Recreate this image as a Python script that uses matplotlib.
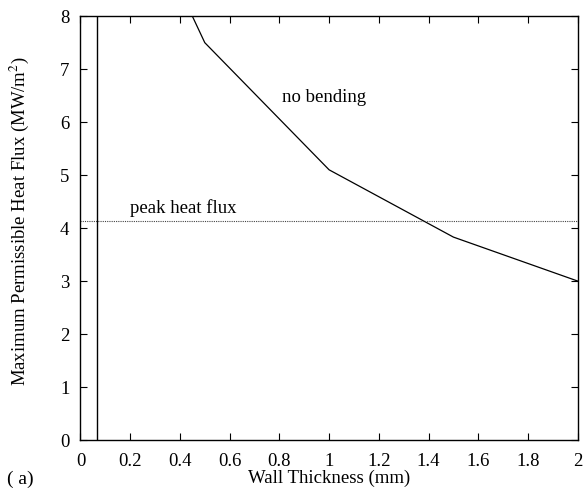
import numpy as np
import matplotlib.pyplot as plt

# wall thickness (mm) vs maximum permissible heat flux (MW/m^2)
thickness = [0.45, 0.5, 1.0, 1.5, 2.0]
heat_flux = [8.0, 7.5, 5.1, 3.83, 3.0]

peak_flux = 4.14
min_wall = 0.068

x_ticks = [0, 0.2, 0.4, 0.6, 0.8, 1, 1.2, 1.4, 1.6, 1.8, 2]
x_tick_labels = ['0', '0.2', '0.4', '0.6', '0.8', '1', '1.2', '1.4', '1.6', '1.8', '2']
y_ticks = [0, 1, 2, 3, 4, 5, 6, 7, 8]

plt.rcParams['font.family'] = ['Liberation Serif', 'DejaVu Serif']
plt.rcParams['mathtext.fontset'] = 'stix'
fs = 13.5

fig = plt.figure(figsize=(5.83, 4.9), dpi=100)
ax = fig.add_axes([0.138, 0.102, 0.853, 0.865])

ax.plot(thickness, heat_flux, color='black', lw=0.9)
ax.axhline(peak_flux, color='#444444', lw=0.8, linestyle=(0, (1, 1)))
ax.axvline(min_wall, color='black', lw=1.0)

ax.text(0.81, 6.47, 'no bending', fontsize=fs, va='center')
ax.text(0.2, 4.38, 'peak heat flux', fontsize=fs, va='center')

ax.set_xlim(0, 2)
ax.set_ylim(0, 8)
ax.set_xticks(x_ticks)
ax.set_xticklabels(x_tick_labels)
ax.set_yticks(y_ticks)
ax.tick_params(direction='in', top=True, right=True, length=5, labelsize=fs)
ax.tick_params(axis='x', pad=9)
ax.tick_params(axis='y', pad=8)
for s in ax.spines.values():
    s.set_linewidth(1.0)

ax.set_xlabel('Wall Thickness (mm)', fontsize=fs, labelpad=0)
ax.set_ylabel('Maximum Permissible Heat Flux (MW/m$^2$)', fontsize=fs)
ax.yaxis.set_label_coords(-0.1, 0.517)
fig.text(0.012, 0.012, '( a)', fontsize=fs + 0.5)

plt.savefig('out.png', dpi=100)
